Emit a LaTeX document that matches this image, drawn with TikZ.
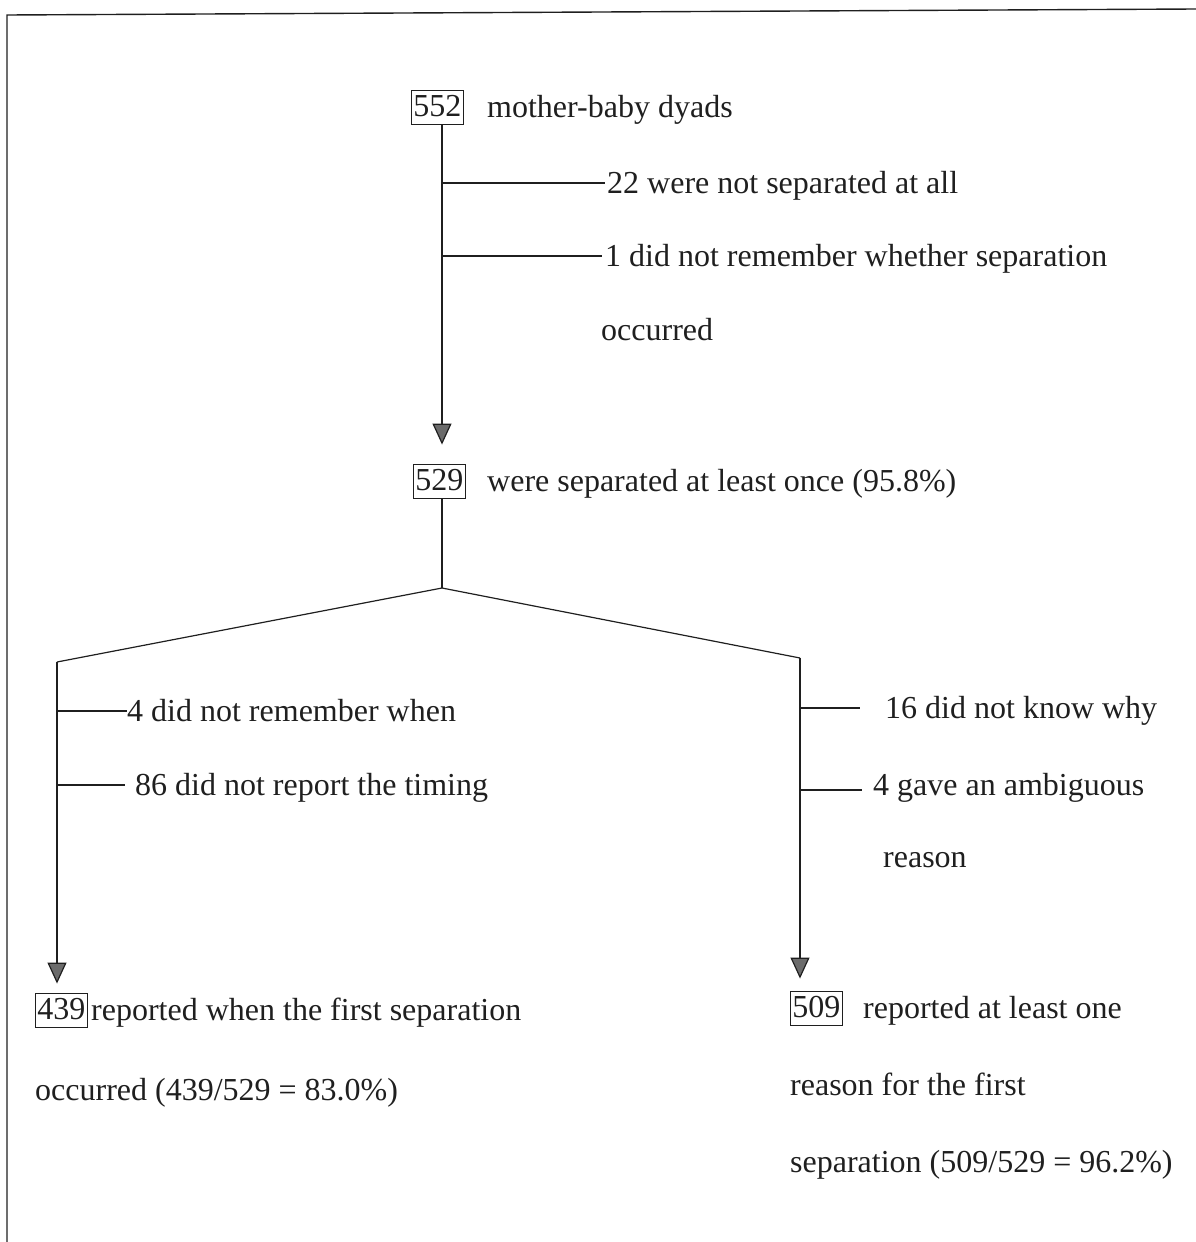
\documentclass[tikz,border=0pt]{standalone}
\usepackage{fontspec}
\setmainfont{Liberation Serif}
\usetikzlibrary{arrows.meta}
\definecolor{inkc}{gray}{0.12}
\definecolor{tipc}{gray}{0.42}
\tikzset{
  txt/.style={font=\fontsize{32}{38}\selectfont, text=inkc, inner sep=0pt, anchor=west, text height=25pt, text depth=5pt},
  numbox/.style={txt, draw=inkc, line width=0.9pt, inner xsep=2pt, inner ysep=3pt, text height=23pt, text depth=5pt},
  conn/.style={draw=inkc, line width=1.2pt},
  arr/.style={conn, -{Triangle[width=19pt,length=21pt,fill=tipc]}},
  frame/.style={draw=inkc, line width=1.4pt}
}
\begin{document}
\begin{tikzpicture}[x=1pt,y=-1pt]
\useasboundingbox (0,0) rectangle (1196,1242);
\draw[frame] (7,1242) -- (7,15) -- (1196,9);

% top part
\node[numbox] (b552) at (411,107) {552};
\node[txt] (t552) at (487,107) {mother-baby dyads};
\node[txt] (t22) at (607,183) {22 were not separated at all};
\node[txt] (t1) at (605,256) {1 did not remember whether separation};
\node[txt] (t1b) at (601,330) {occurred};
\node[numbox] (b529) at (413,481) {529\hspace{7pt}};
\node[txt] (t529) at (487,481) {were separated at least once (95.8\%)};

\coordinate (vx) at (442,0);
\draw[arr, shorten >=19pt] (vx |- b552.south) -- (vx |- b529.north);
\draw[conn] (vx |- t22.west) -- ([xshift=-2pt]t22.west);
\draw[conn] (vx |- t1.west) -- ([xshift=-3pt]t1.west);

% split
\coordinate (split) at (442,588);
\coordinate (lc) at (57,662);
\coordinate (rc) at (800,658);
\draw[conn] (vx |- b529.south) -- (split);
\draw[conn] (lc) -- (split) -- (rc);

% left branch
\node[txt] (t4) at (127,711) {4 did not remember when};
\node[txt] (t86) at (135,785) {86 did not report the timing};
\node[numbox] (b439) at (35,1010) {439};
\node[txt] (t439) at (91,1010) {reported when the first separation};
\node[txt] (t439b) at (35,1090) {occurred (439/529 = 83.0\%)};
\draw[arr, shorten >=9pt] (lc) -- (lc |- b439.north);
\draw[conn] (lc |- t4.west) -- (t4.west);
\draw[conn] (lc |- t86.west) -- ([xshift=-10pt]t86.west);

% right branch
\node[txt] (t16) at (885,708) {16 did not know why};
\node[txt] (tamb) at (873,785) {4 gave an ambiguous};
\node[txt] (tamb2) at (883,857) {reason};
\node[numbox] (b509) at (790,1008) {509};
\node[txt] (t509) at (863,1008) {reported at least one};
\node[txt] (t509b) at (790,1085) {reason for the first};
\node[txt] (t509c) at (790,1162) {separation (509/529 = 96.2\%)};
\draw[arr, shorten >=12pt] (rc) -- (rc |- b509.north);
\draw[conn] (rc |- t16.west) -- ([xshift=-25pt]t16.west);
\draw[conn] ([yshift=-5pt]rc |- tamb.west) -- ([xshift=-11pt,yshift=-5pt]tamb.west);
\end{tikzpicture}
\end{document}
